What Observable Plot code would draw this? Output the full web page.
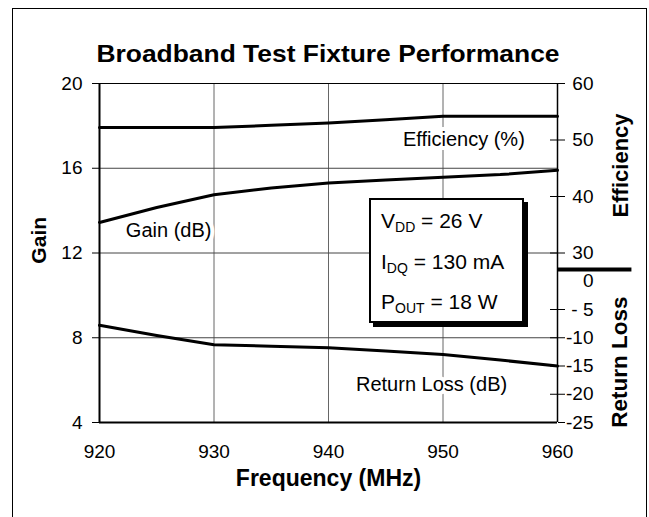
<!DOCTYPE html>
<html><head><meta charset="utf-8">
<script src="https://cdn.jsdelivr.net/npm/d3@7"></script>
<script src="https://cdn.jsdelivr.net/npm/@observablehq/plot@0.6"></script>
<style>
body{margin:0;background:#fff;font-family:"Liberation Sans",Arial,sans-serif;}
#wrap{position:relative;width:649px;height:517px;overflow:hidden;background:#fff;}
#frame{position:absolute;left:12px;top:8px;width:635px;height:560px;border:1px solid #000;box-sizing:border-box;}
#chart{position:absolute;left:0;top:0;}
#title{position:absolute;left:99px;width:458px;top:42px;text-align:center;font-weight:bold;font-size:24px;line-height:24px;transform:scaleX(1.1);white-space:nowrap;}
#box{position:absolute;left:369px;top:198px;width:155px;height:125px;border:2px solid #000;background:#fff;box-shadow:4px 4px 0 #000;box-sizing:border-box;}
.ln{position:absolute;left:10px;font-size:21px;line-height:21px;white-space:nowrap;}
.ln sub{font-size:14px;vertical-align:-4px;line-height:0;}
</style></head>
<body>
<div id="wrap">
  <div id="frame"></div>
  <div id="chart"></div>
  <div id="title">Broadband Test Fixture Performance</div>
  <div id="box">
    <div class="ln" style="top:9.5px">V<sub>DD</sub> = 26 V</div>
    <div class="ln" style="top:51px">I<sub>DQ</sub> = 130 mA</div>
    <div class="ln" style="top:90.5px">P<sub>OUT</sub> = 18 W</div>
  </div>
</div>
<script>
// ---- data ----
const freq = [920, 925, 930, 935, 940, 945, 950, 955, 960];
const gainDb = [13.44, 14.15, 14.75, 15.07, 15.3, 15.45, 15.58, 15.7, 15.9];
const efficiencyPct = [52.2, 52.2, 52.2, 52.6, 53.0, 53.6, 54.2, 54.2, 54.2];
const returnLossDb = [-7.8, -9.6, -11.25, -11.5, -11.75, -12.35, -12.95, -13.95, -15.0];

const xTicks = [920, 930, 940, 950, 960];
const gainTicks = [4, 8, 12, 16, 20];
const effTicks = [30, 40, 50, 60];
const rlTicks = [0, -5, -10, -15, -20, -25];
const rlTickLabels = ["0", "- 5", "-10", "-15", "-20", "-25"];
const gainDomain = [4, 20];
const effDomain = [0, 60];
const rlDomain = [-25, 35];
const separatorEff = 27.1; // thick divider between the two right-hand axes

// ---- helpers: map secondary axes onto the gain scale ----
const k = (gainDomain[1] - gainDomain[0]) / (effDomain[1] - effDomain[0]);
const effToGain = e => gainDomain[0] + (e - effDomain[0]) * k;
const rlToGain = r => gainDomain[0] + (r - rlDomain[0]) * k;
const gainToEff = g => effDomain[0] + (g - gainDomain[0]) / k;
const gainToRl = g => rlDomain[0] + (g - gainDomain[0]) / k;

const rows = freq.map((f, i) => ({f, gain: gainDb[i], eff: effToGain(efficiencyPct[i]), rl: rlToGain(returnLossDb[i])}));

const W = 649, H = 517, mL = 99, mR = 92, mT = 83, mB = 95;
const plotW = W - mL - mR;

const lineLabels = [
  {text: "Efficiency (%)", f: 946.5, g: 17.35},
  {text: "Gain (dB)", f: 922.3, g: 13.07},
  {text: "Return Loss (dB)", f: 942.4, g: 5.79}
];

const rightOuterTicks = [...effTicks.map(effToGain), ...rlTicks.filter(r => r !== 0).map(rlToGain)];

const chart = Plot.plot({
  width: W, height: H,
  marginLeft: mL, marginRight: mR, marginTop: mT, marginBottom: mB,
  x: {domain: [xTicks[0], xTicks[xTicks.length - 1]]},
  y: {domain: gainDomain},
  style: {fontFamily: "'Liberation Sans', Arial, sans-serif", fontSize: "19px", color: "#000", background: "transparent", overflow: "visible"},
  marks: [
    Plot.ruleX(xTicks.slice(1, -1), {stroke: "#666", strokeWidth: 1}),
    Plot.ruleY(gainTicks.slice(1, -1), {stroke: "#444", strokeWidth: 1}),
    Plot.ruleY([gainDomain[1]], {stroke: "#000", strokeWidth: 1}),
    Plot.ruleX([xTicks[xTicks.length - 1]], {stroke: "#000", strokeWidth: 1.5}),
    Plot.ruleY([gainDomain[0]], {stroke: "#000", strokeWidth: 2}),
    Plot.ruleX([xTicks[0]], {stroke: "#000", strokeWidth: 2}),
    Plot.axisX(xTicks, {tickSize: 0, tickPadding: 22, fontSize: 19, label: null}),
    Plot.axisY(gainTicks, {anchor: "left", tickSize: 7, tickPadding: 10, fontSize: 19, label: null}),
    Plot.axisY(effTicks.map(effToGain), {anchor: "right", tickSize: 7, tickPadding: 29, textAnchor: "end", fontSize: 19, label: null,
      tickFormat: d => String(Math.round(gainToEff(d)))}),
    Plot.axisY(rlTicks.filter(r => r !== 0).map(rlToGain), {anchor: "right", tickSize: 7, tickPadding: 29, textAnchor: "end", fontSize: 19, label: null,
      tickFormat: d => rlTickLabels[rlTicks.indexOf(Math.round(gainToRl(d)))]}),
    Plot.axisY([rlToGain(0)], {anchor: "right", tickSize: 0, tickPadding: 36, textAnchor: "end", fontSize: 19, label: null,
      tickFormat: d => rlTickLabels[rlTicks.indexOf(Math.round(gainToRl(d)))]}),
    Plot.tickY(rightOuterTicks, {stroke: "#000", insetLeft: plotW - 7}),
    Plot.ruleY([effToGain(separatorEff)], {x1: xTicks[xTicks.length - 1], x2: xTicks[xTicks.length - 1] + 6.5, stroke: "#000", strokeWidth: 4}),
    Plot.text(lineLabels, {x: "f", y: "g", text: "text", textAnchor: "start", lineAnchor: "middle", fontSize: 20, fill: "#000", stroke: "#fff", strokeWidth: 8}),
    Plot.line(rows, {x: "f", y: "eff", stroke: "#000", strokeWidth: 3}),
    Plot.line(rows, {x: "f", y: "gain", stroke: "#000", strokeWidth: 3}),
    Plot.line(rows, {x: "f", y: "rl", stroke: "#000", strokeWidth: 3}),
    Plot.text(["Frequency (MHz)"], {frameAnchor: "bottom", dy: 56, text: d => d, fontSize: 23, fontWeight: "bold", textAnchor: "middle", lineAnchor: "middle"}),
    Plot.text(["Gain"], {frameAnchor: "left", y: [12.6], dx: -60, text: d => d, rotate: -90, textAnchor: "middle", lineAnchor: "middle", fontSize: 21, fontWeight: "bold"}),
    Plot.text(["Efficiency"], {frameAnchor: "right", y: [effToGain(45.5)], dx: 63, text: d => d, rotate: -90, textAnchor: "middle", lineAnchor: "middle", fontSize: 22, fontWeight: "bold"}),
    Plot.text(["Return Loss"], {frameAnchor: "right", y: [rlToGain(-14.3)], dx: 62, text: d => d, rotate: -90, textAnchor: "middle", lineAnchor: "middle", fontSize: 22.5, fontWeight: "bold"})
  ]
});
document.getElementById("chart").appendChild(chart);
</script>
</body></html>
